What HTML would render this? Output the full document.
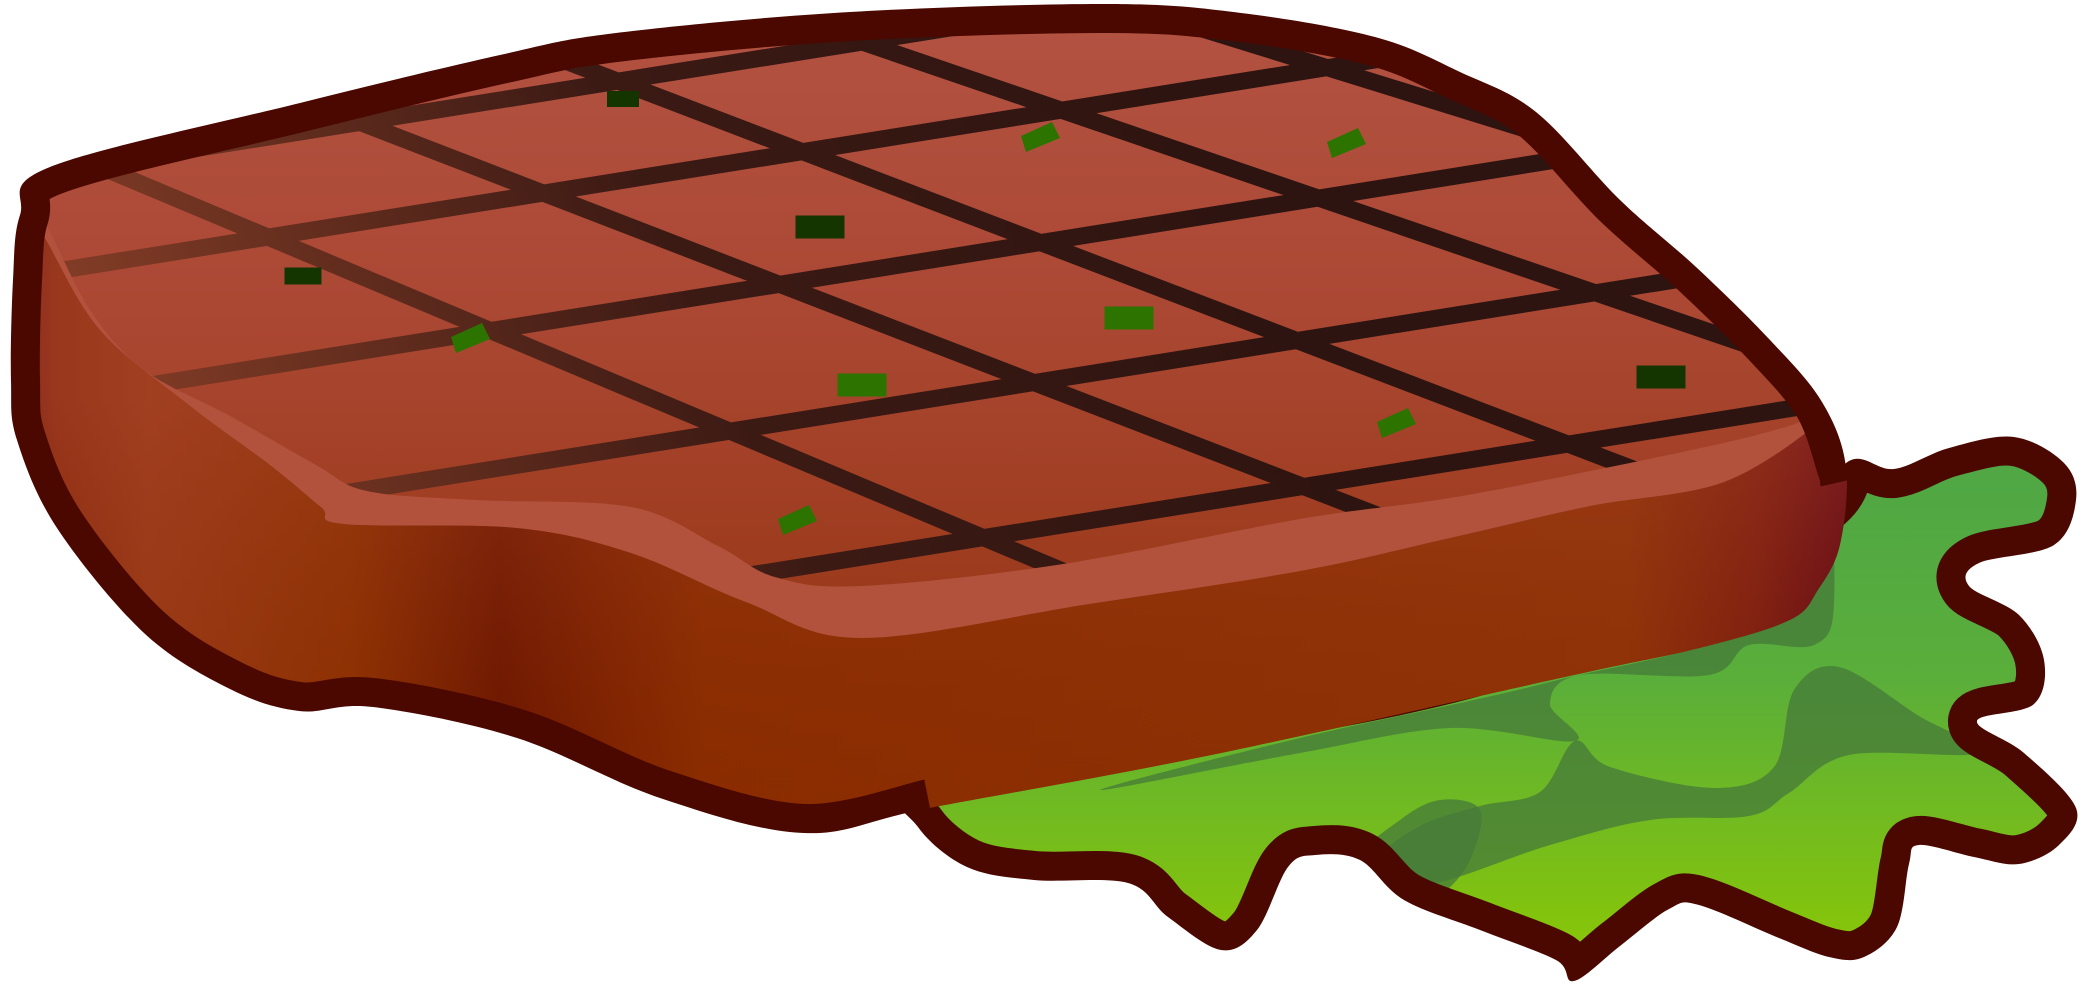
<!DOCTYPE html>
<html><head><meta charset="utf-8"><title>Grilled steak on lettuce</title>
<style>html,body{margin:0;padding:0;background:#fff;}svg{display:block;}</style>
</head><body>
<svg id="art" width="2083" height="982" viewBox="0 0 2083 982" xmlns="http://www.w3.org/2000/svg">
<defs>
  <linearGradient id="lettuceGrad" x1="0" y1="440" x2="0" y2="970" gradientUnits="userSpaceOnUse">
    <stop offset="0" stop-color="#4ea646"/><stop offset="0.45" stop-color="#5aae3a"/><stop offset="1" stop-color="#8cc804"/>
  </linearGradient>
  <linearGradient id="sideGrad" x1="0" y1="0" x2="1850" y2="0" gradientUnits="userSpaceOnUse">
    <stop offset="0" stop-color="#5a0a1a"/><stop offset="0.03" stop-color="#8a2a10"/><stop offset="0.08" stop-color="#9a3a18"/>
    <stop offset="0.19" stop-color="#8c3000"/><stop offset="0.27" stop-color="#6a1500"/><stop offset="0.32" stop-color="#7a2000"/>
    <stop offset="0.38" stop-color="#8a2c00"/><stop offset="0.88" stop-color="#8e3206"/><stop offset="0.95" stop-color="#7a1a10"/>
    <stop offset="1" stop-color="#5a0018"/>
  </linearGradient>
  <linearGradient id="sideShade" x1="0" y1="400" x2="0" y2="840" gradientUnits="userSpaceOnUse">
    <stop offset="0" stop-color="#a8442a" stop-opacity="0.5"/><stop offset="1" stop-color="#8a2c00" stop-opacity="0"/>
  </linearGradient>
  <linearGradient id="faceGrad" x1="0" y1="20" x2="0" y2="590" gradientUnits="userSpaceOnUse">
    <stop offset="0" stop-color="#b35242"/><stop offset="0.5" stop-color="#ab4834"/><stop offset="1" stop-color="#9c3a1c"/>
  </linearGradient>
  <linearGradient id="lineGrad" x1="100" y1="520" x2="1150" y2="60" gradientUnits="userSpaceOnUse">
    <stop offset="0" stop-color="#8a4028"/><stop offset="0.55" stop-color="#3c1a14"/><stop offset="1" stop-color="#2e1410"/>
  </linearGradient>
</defs>
<g id="scene"></g>
</svg>
<script>
const NS='http://www.w3.org/2000/svg';
const scene=document.getElementById('scene');
const defs=document.querySelector('defs');
function smooth(pts,closed){
  const n=pts.length;let d='M'+pts[0][0]+','+pts[0][1];
  const get=i=>closed?pts[(i+n)%n]:pts[Math.max(0,Math.min(n-1,i))];
  const last=closed?n:n-1;
  for(let i=0;i<last;i++){
    const p0=get(i-1),p1=get(i),p2=get(i+1),p3=get(i+2);
    const c1=[p1[0]+(p2[0]-p0[0])/6,p1[1]+(p2[1]-p0[1])/6];
    const c2=[p2[0]-(p3[0]-p1[0])/6,p2[1]-(p3[1]-p1[1])/6];
    d+=' C'+c1[0].toFixed(1)+','+c1[1].toFixed(1)+' '+c2[0].toFixed(1)+','+c2[1].toFixed(1)+' '+p2[0]+','+p2[1];
  }
  return d+(closed?' Z':'');
}
function mk(tag,attrs,parent){const e=document.createElementNS(NS,tag);for(const k in attrs)e.setAttribute(k,attrs[k]);(parent||scene).appendChild(e);return e;}

const steakOuter=[[50,167],[300,103],[500,55],[616,33],[850,12],[1107,4],[1241,13],[1375,37],[1460,72],[1536,112],[1620,200],[1696,267],[1770,340],[1822,402],[1846,467],[1840,545],[1818,590],[1790,620],[1700,648],[1570,676],[1212,755],[930,808],[804,833],[660,798],[517,738],[373,707],[299,711],[230,689],[144,633],[57,528],[17,440],[11,381],[13,280],[20,215]];
const steakLeftOpen=[[930,808],[804,833],[660,798],[517,738],[373,707],[299,711],[230,689],[144,633],[57,528],[17,440],[11,381],[13,280],[20,215],[50,167],[300,103],[500,55],[616,33],[850,12],[1107,4],[1241,13],[1375,37],[1460,72],[1536,112],[1620,200],[1696,267],[1770,340],[1822,402],[1846,467],[1849,480]];
const lettuceOuter=[[1849,461],[1894,469],[1949,448],[2014,437],[2064,463],[2076,500],[2054,545],[1979,563],[1969,586],[2019,615],[2044,660],[2034,704],[1977,721],[2024,753],[2076,808],[2059,845],[2019,864],[1974,857],[1919,845],[1909,864],[1897,927],[1864,957],[1829,957],[1779,938],[1699,905],[1669,909],[1620,946],[1574,981],[1556,960],[1480,930],[1404,900],[1360,860],[1315,855],[1288,867],[1257,930],[1221,950],[1168,917],[1128,883],[1034,880],[967,867],[918,827],[905,780],[1100,740],[1500,660],[1800,520]];
const faceTop=[[28,212],[50,175],[300,110],[500,62],[616,40],[850,20],[1107,12],[1241,21],[1375,45],[1455,80],[1528,120],[1612,206],[1688,273],[1762,346],[1812,408]];
const faceLower=[[1822,414],[1749,437],[1600,469],[1450,498],[1300,519],[1063,564],[861,586],[775,577],[718,546],[631,507],[476,500],[367,491],[316,465],[230,416],[144,370],[90,310],[46,225]];
const hiLower=[[1822,420],[1724,482],[1590,506],[1450,538],[1300,571],[1089,604],[861,638],[746,602],[631,553],[517,528],[344,524],[321,507],[270,465],[189,405],[100,330],[46,240]];

const gridAIntercepts=[20,120,249,388,535,690];
const gridBLines=[[120,175,0.42],[359,122,0.386],[607,77,0.382],[862,42,0.342],[1196,27,0.31]];
const darkHerbs=[[623,99,32,16],[820,227,49,23],[1661,377,49,23],[303,276,37,17]];
const greenHerbs=[[1129,318,49,23],[862,385,49,23]];
const diamondHerbs=[[1040,137],[1346,143],[1396,423],[470,338],[797,520]];

const mS=mk('mask',{id:'steakMask',maskUnits:'userSpaceOnUse',x:0,y:0,width:2083,height:982},defs);
mk('path',{d:smooth(steakOuter,true),fill:'#fff'},mS);
mk('path',{d:smooth(steakLeftOpen,false),fill:'none',stroke:'#000','stroke-width':58,'stroke-linejoin':'round'},mS);
const mL=mk('mask',{id:'lettuceMask',maskUnits:'userSpaceOnUse',x:0,y:0,width:2083,height:982},defs);
mk('path',{d:smooth(lettuceOuter,true),fill:'#fff'},mL);
mk('path',{d:smooth(lettuceOuter,true),fill:'none',stroke:'#000','stroke-width':58,'stroke-linejoin':'round'},mL);
const cp=mk('clipPath',{id:'faceClip'},defs);
mk('path',{d:smooth(faceTop.concat(faceLower),true)},cp);

let e=mk('path',{d:smooth(steakOuter,true),fill:'#4a0800'});


e=mk('path',{d:smooth(lettuceOuter,true),fill:'#4a0800'});

const lg=mk('g',{mask:'url(#lettuceMask)'});

mk('path',{d:smooth(lettuceOuter,true),fill:'url(#lettuceGrad)'},lg);
const bands=[
 [[1300,738],[1550,682],[1759,619],[1822,474],[1834,604],[1814,645],[1749,645],[1709,675],[1580,675],[1550,704],[1575,741],[1450,728],[1300,753],[1100,790]],
 [[1575,741],[1610,767],[1714,788],[1774,767],[1794,690],[1839,667],[1919,716],[1979,753],[1849,755],[1789,793],[1749,816],[1650,820],[1550,845],[1425,885],[1380,860],[1420,826],[1480,806],[1540,792]],
 [[1360,860],[1400,820],[1440,800],[1480,810],[1470,860],[1440,895],[1404,900]]
];
bands.forEach((b,i)=>{const p=mk('path',{d:smooth(b,true),fill:'#457a3a',opacity:0.75},lg);});

const sg=mk('g',{mask:'url(#steakMask)'});

e=mk('path',{d:smooth(steakOuter,true),fill:'url(#sideGrad)'},sg);

mk('path',{d:smooth(steakOuter,true),fill:'url(#sideShade)'},sg);
e=mk('path',{d:smooth(faceTop.concat(hiLower),true),fill:'#b2523c'},sg);

e=mk('path',{d:smooth(faceTop.concat(faceLower),true),fill:'url(#faceGrad)'},sg);


const gl=mk('g',{'clip-path':'url(#faceClip)',stroke:'url(#lineGrad)','stroke-width':17,fill:'none'},sg);

gridAIntercepts.forEach((y0,i)=>{
  const s=-0.16;const l=mk('line',{x1:0,y1:y0+s*(0-1000),x2:1900,y2:y0+s*(1900-1000)},gl);
  
});
gridBLines.forEach((b,i)=>{
  const [x0,y0,s]=b;const l=mk('line',{x1:x0+(-50-y0)/s,y1:-50,x2:x0+(900-y0)/s,y2:900},gl);
  
});
const hg=mk('g',{},sg);

darkHerbs.forEach(h=>{const r=mk('rect',{x:h[0]-h[2]/2,y:h[1]-h[3]/2,width:h[2],height:h[3],fill:'#143500'},hg);});
greenHerbs.forEach(h=>{const r=mk('rect',{x:h[0]-h[2]/2,y:h[1]-h[3]/2,width:h[2],height:h[3],fill:'#2d7300'},hg);});
diamondHerbs.forEach(h=>{const [cx,cy]=h;const pts=[[-19,-1],[12,-15],[20,1],[-14,15]].map(p=>(cx+p[0])+','+(cy+p[1])).join(' ');
  const r=mk('polygon',{points:pts,fill:'#2d7300'},hg);});
</script>
</body></html>
